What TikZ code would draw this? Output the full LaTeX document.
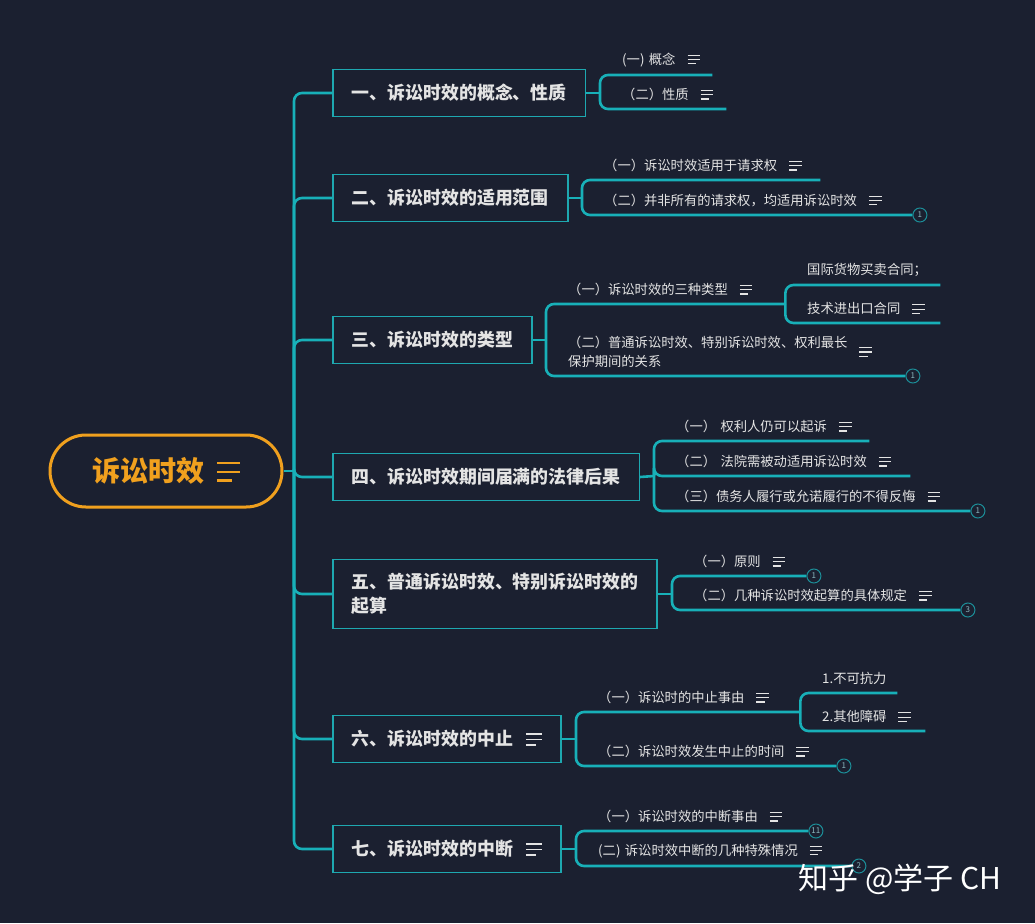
\documentclass[tikz,border=0pt]{standalone}
\usepackage{fontspec}
\setmainfont{Noto Sans CJK SC}
\usepackage{xcolor}

\definecolor{bgnavy}{RGB}{27,32,48}
\definecolor{lineteal}{RGB}{24,176,184}
\definecolor{boxteal}{RGB}{30,168,176}
\definecolor{badgeteal}{RGB}{28,142,152}
\definecolor{badgetext}{RGB}{140,185,192}
\definecolor{txtwhite}{RGB}{228,228,228}
\definecolor{rootorange}{RGB}{240,160,30}

\newcommand{\childfont}{\fontsize{13.3}{19}\selectfont}
\newcommand{\boxfont}{\fontsize{17.9}{24}\selectfont\bfseries}
\newcommand{\rootfont}{\fontsize{28}{30}\selectfont\bfseries}
% three-line note mark after a topic
\newcommand{\noteicon}[2][.9em]{\hspace{#1}\vbox{\hrule width #2 height .08em\vskip .23em\hrule width #2 height .08em\vskip .23em\hrule width .65\dimexpr#2\relax height .08em}}

\tikzset{
	branch/.style={draw=lineteal, line width=2.6pt, rounded corners=8pt},
	topic/.style={draw=boxteal, line width=1.6pt, fill=bgnavy, text=txtwhite, font=\boxfont, anchor=west, align=left, inner xsep=19pt, inner ysep=14pt, minimum height=47pt},
	subtopic/.style={anchor=south west, inner xsep=0pt, inner ysep=8pt, text width=#1pt, align=left, font=\childfont, text=txtwhite, execute at begin node={\hspace*{22pt}}},
	badge/.style={circle, draw=badgeteal, line width=1pt, fill=bgnavy, text=badgetext, font=\fontsize{8}{8}\selectfont, inner sep=1pt, minimum size=14pt, anchor=west}
}

\begin{document}
\begin{tikzpicture}[x=1pt,y=1pt,yscale=-1,xscale=1]
	%Background
	\fill[bgnavy] (0,0) rectangle (1035,923);
	\useasboundingbox (0,0) rectangle (1035,923);
	
	%Shape: Central topic
	\node [draw=rootorange, line width=3pt, rounded corners=35.9pt, fill=bgnavy, text=rootorange, font=\rootfont, minimum width=232pt, minimum height=72pt, inner sep=0pt] (root) at (166,471) {诉讼时效\noteicon[.46em]{.82em}};
	
	%Shape: Main topics
	\node [topic] (b1) at (332,93) {一、诉讼时效的概念、性质};
	\node [topic] (b2) at (332,198) {二、诉讼时效的适用范围};
	\node [topic] (b3) at (332,340) {三、诉讼时效的类型};
	\node [topic] (b4) at (332,477) {四、诉讼时效期间届满的法律后果};
	\node [topic] (b5) at (332,594) {五、普通诉讼时效、特别诉讼时效的\\起算};
	\node [topic] (b6) at (332,739) {六、诉讼时效的中止\noteicon[.73em]{.9em}};
	\node [topic] (b7) at (332,849) {七、诉讼时效的中断\noteicon[.73em]{.9em}};
	
	%Junction points
	\coordinate (tk) at (294,471);
	\coordinate (j1) at (600,93);
	\coordinate (j2) at (582,198);
	\coordinate (j3) at (546,340);
	\coordinate (j4) at (654,476);
	\coordinate (j5) at (672,594);
	\coordinate (j6) at (576,739);
	\coordinate (j7) at (576,849);
	
	% Text Node
	\node [subtopic=112] (c1a) at (600,75) {(一) 概念\noteicon{.95em}};
	\node [subtopic=126] (c1b) at (600,109) {（二）性质\noteicon{.95em}};
	% Text Node
	\node [subtopic=238] (c2a) at (582,180) {（一）诉讼时效适用于请求权\noteicon{.95em}};
	\node [subtopic=330] (c2b) at (582,215) {（二）并非所有的请求权，均适用诉讼时效\noteicon{.95em}};
	\node [badge] (n2b) at (c2b.south east) {1};
	% Text Node
	\node [subtopic=239] (c3a) at (546,304) {（一）诉讼时效的三种类型\noteicon{.95em}};
	\node [subtopic=155] (d3a) at (785,285) {国际货物买卖合同；};
	\node [subtopic=155] (d3b) at (785,323) {技术进出口合同\noteicon{.95em}};
	\node [subtopic=359] (c3b) at (546,376) {（二）普通诉讼时效、特别诉讼时效、权利最长\smash{\raisebox{-9pt}{\noteicon{.95em}}}\\\hspace*{22pt}保护期间的关系};
	\node [badge] (n3b) at (c3b.south east) {1};
	% Text Node
	\node [subtopic=215] (c4a) at (654,441) {（一） 权利人仍可以起诉\noteicon{.95em}};
	\node [subtopic=256] (c4b) at (654,476) {（二） 法院需被动适用诉讼时效\noteicon{.95em}};
	\node [subtopic=316] (c4c) at (654,511) {（三）债务人履行或允诺履行的不得反悔\noteicon{.95em}};
	\node [badge] (n4c) at (c4c.south east) {1};
	% Text Node
	\node [subtopic=134] (c5a) at (672,576) {（一）原则\noteicon{.95em}};
	\node [badge] (n5a) at (c5a.south east) {1};
	\node [subtopic=288] (c5b) at (672,610) {（二）几种诉讼时效起算的具体规定\noteicon{.95em}};
	\node [badge] (n5b) at (c5b.south east) {3};
	% Text Node
	\node [subtopic=224] (c6a) at (576,712) {（一）诉讼时的中止事由\noteicon{.95em}};
	\node [subtopic=97] (d6a) at (800,693) {1.不可抗力};
	\node [subtopic=125] (d6b) at (800,731) {2.其他障碍\noteicon{.95em}};
	\node [subtopic=260] (c6b) at (576,766) {（二）诉讼时效发生中止的时间\noteicon{.95em}};
	\node [badge] (n6b) at (c6b.south east) {1};
	% Text Node
	\node [subtopic=232] (c7a) at (576,831) {（一）诉讼时效的中断事由\noteicon{.95em}};
	\node [badge] (n7a) at (c7a.south east) {11};
	\node [subtopic=275] (c7b) at (576,866) {(二) 诉讼时效中断的几种特殊情况\noteicon{.95em}};
	\node [badge] (n7b) at (c7b.south east) {2};
	
	%Curve Lines: trunk
	\draw [branch] (root.east) -- (tk);
	\foreach \b in {b1,b2,b3,b4,b5,b6,b7}
		\draw [branch] (tk) |- (\b.west);
	
	%Curve Lines: topic to subtopics
	\draw [branch] (b1.east) -- (j1);
	\draw [branch] (j1) |- (c1a.south east);
	\draw [branch] (j1) |- (c1b.south east);
	\draw [branch] (b2.east) -- (j2);
	\draw [branch] (j2) |- (c2a.south east);
	\draw [branch] (j2) |- (n2b.west);
	\draw [branch] (b3.east) -- (j3);
	\draw [branch] (j3) |- (c3a.south east);
	\draw [branch] (j3) |- (n3b.west);
	\draw [branch] (c3a.south east) |- (d3a.south east);
	\draw [branch] (c3a.south east) |- (d3b.south east);
	\draw [branch] (b4.east) -- (j4);
	\draw [branch] (j4) |- (c4a.south east);
	\draw [branch] (j4) |- (c4b.south east);
	\draw [branch] (j4) |- (n4c.west);
	\draw [branch] (b5.east) -- (j5);
	\draw [branch] (j5) |- (n5a.west);
	\draw [branch] (j5) |- (n5b.west);
	\draw [branch] (b6.east) -- (j6);
	\draw [branch] (j6) |- (c6a.south east);
	\draw [branch] (j6) |- (n6b.west);
	\draw [branch] (c6a.south east) |- (d6a.south east);
	\draw [branch] (c6a.south east) |- (d6b.south east);
	\draw [branch] (b7.east) -- (j7);
	\draw [branch] (j7) |- (n7a.west);
	\draw [branch] (j7) |- (n7b.west);
	
	% Text Node: watermark
	\node [text=white, font=\fontsize{30}{32}\selectfont, inner sep=0pt] (mark) at (900,879) {知乎 @学子 CH};
\end{tikzpicture}
\end{document}
